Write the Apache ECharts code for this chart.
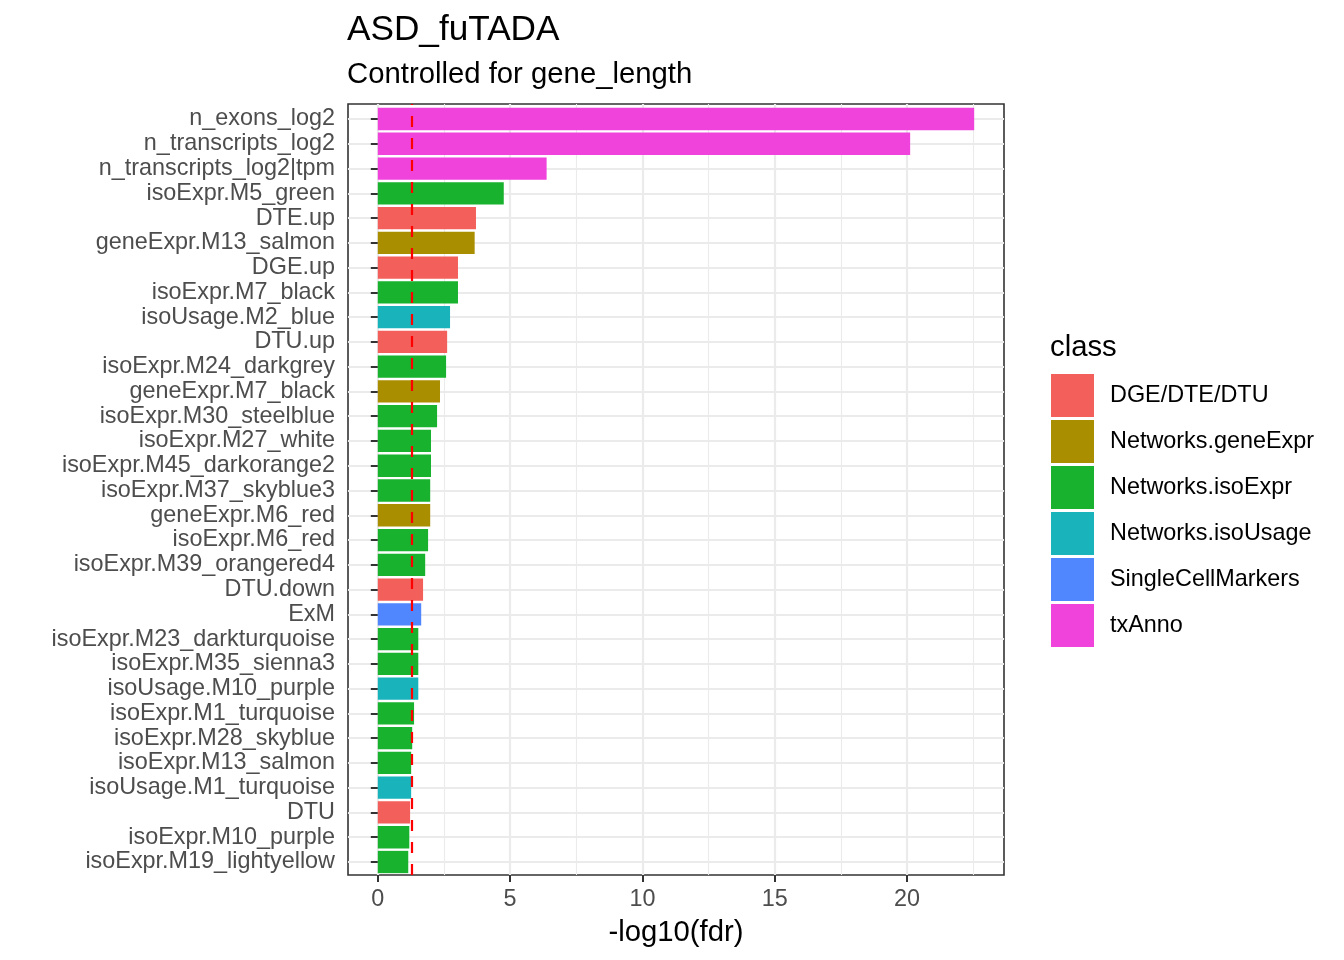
<!DOCTYPE html>
<html>
<head>
<meta charset="utf-8">
<script src="https://cdn.jsdelivr.net/npm/echarts@6/dist/echarts.min.js"></script>
<style>
  html, body { margin: 0; padding: 0; background: #fff; }
  #chart { width: 1344px; height: 960px; }
</style>
</head>
<body>
<div id="chart"></div>
<script>
// terms, top to bottom
const terms = [
  'n_exons_log2', 'n_transcripts_log2', 'n_transcripts_log2|tpm', 'isoExpr.M5_green',
  'DTE.up', 'geneExpr.M13_salmon', 'DGE.up', 'isoExpr.M7_black', 'isoUsage.M2_blue',
  'DTU.up', 'isoExpr.M24_darkgrey', 'geneExpr.M7_black', 'isoExpr.M30_steelblue',
  'isoExpr.M27_white', 'isoExpr.M45_darkorange2', 'isoExpr.M37_skyblue3', 'geneExpr.M6_red',
  'isoExpr.M6_red', 'isoExpr.M39_orangered4', 'DTU.down', 'ExM', 'isoExpr.M23_darkturquoise',
  'isoExpr.M35_sienna3', 'isoUsage.M10_purple', 'isoExpr.M1_turquoise', 'isoExpr.M28_skyblue',
  'isoExpr.M13_salmon', 'isoUsage.M1_turquoise', 'DTU', 'isoExpr.M10_purple',
  'isoExpr.M19_lightyellow'
];
const scores = [
  22.54, 20.12, 6.38, 4.76,
  3.71, 3.66, 3.03, 3.03, 2.73,
  2.62, 2.58, 2.35, 2.24,
  2.01, 2.01, 1.98, 1.98,
  1.90, 1.79, 1.71, 1.64, 1.53,
  1.53, 1.53, 1.37, 1.30,
  1.26, 1.26, 1.22, 1.19,
  1.15
];
const termClass = [
  'txAnno', 'txAnno', 'txAnno', 'Networks.isoExpr',
  'DGE/DTE/DTU', 'Networks.geneExpr', 'DGE/DTE/DTU', 'Networks.isoExpr', 'Networks.isoUsage',
  'DGE/DTE/DTU', 'Networks.isoExpr', 'Networks.geneExpr', 'Networks.isoExpr',
  'Networks.isoExpr', 'Networks.isoExpr', 'Networks.isoExpr', 'Networks.geneExpr',
  'Networks.isoExpr', 'Networks.isoExpr', 'DGE/DTE/DTU', 'SingleCellMarkers', 'Networks.isoExpr',
  'Networks.isoExpr', 'Networks.isoUsage', 'Networks.isoExpr', 'Networks.isoExpr',
  'Networks.isoExpr', 'Networks.isoUsage', 'DGE/DTE/DTU', 'Networks.isoExpr',
  'Networks.isoExpr'
];
const classes = ['DGE/DTE/DTU', 'Networks.geneExpr', 'Networks.isoExpr',
                 'Networks.isoUsage', 'SingleCellMarkers', 'txAnno'];
const classColors = ['#F35F5A', '#A98E00', '#19B22F', '#19B3BB', '#5087FF', '#F043DC'];
const xTicks = [0, 5, 10, 15, 20];
const xMinorTicks = [2.5, 7.5, 12.5, 17.5, 22.5];
const fdrLine = 1.30103; // -log10(0.05)

// ggplot-like 5% expansion
const maxScore = Math.max(...scores);
const xMin = -maxScore * 0.05;
const xMax = maxScore * 1.05;

const axisFont = 'Liberation Sans, Arial, Helvetica, sans-serif';

const barSeries = classes.map((cls, i) => ({
  name: cls,
  type: 'bar',
  barGap: '-100%',
  xAxisIndex: 1,
  yAxisIndex: 1,
  barWidth: '90%',
  clip: false,
  z: 3,
  itemStyle: { color: classColors[i] },
  data: scores.map((v, j) => termClass[j] === cls ? v : '-')
}));

const chart = echarts.init(document.getElementById('chart'));
chart.setOption({
  animation: false,
  backgroundColor: '#ffffff',
  textStyle: { fontFamily: axisFont },
  title: [
    { text: 'ASD_fuTADA', left: 347, top: 13, padding: 0,
      textStyle: { fontSize: 35.2, fontWeight: 'normal', color: '#000', fontFamily: axisFont } },
    { text: 'Controlled for gene_length', left: 347, top: 60, padding: 0,
      textStyle: { fontSize: 29.3, fontWeight: 'normal', color: '#000', fontFamily: axisFont } },
    { text: 'class', left: 1050, top: 333, padding: 0,
      textStyle: { fontSize: 29.3, fontWeight: 'normal', color: '#000', fontFamily: axisFont } }
  ],
  legend: {
    orient: 'vertical',
    left: 1051,
    top: 374,
    padding: 0,
    itemWidth: 43,
    itemHeight: 43,
    itemGap: 3,
    icon: 'rect',
    selectedMode: false,
    data: classes,
    textStyle: { fontSize: 23.4, color: '#000', fontFamily: axisFont, padding: [4, 0, 0, 11] }
  },
  grid: [
    // panel
    { left: 348, top: 104, width: 656, height: 771, show: true,
      backgroundColor: '#fff', borderColor: '#333333', borderWidth: 1.6, containLabel: false },
    // bar rows: from first to last category centre
    { left: 348, top: 119, width: 656, height: 743, containLabel: false }
  ],
  xAxis: [
    { type: 'value', gridIndex: 0, min: xMin, max: xMax,
      name: '-log10(fdr)', nameLocation: 'middle', nameGap: 43,
      nameTextStyle: { fontSize: 29.3, color: '#000', fontFamily: axisFont },
      axisLine: { show: false },
      axisTick: { show: true, length: 7, customValues: xTicks,
                  lineStyle: { color: '#333333', width: 2 } },
      axisLabel: { customValues: xTicks, margin: 13, fontSize: 23.4, color: '#4D4D4D', fontFamily: axisFont },
      splitLine: { show: true, lineStyle: { color: '#EBEBEB', width: 2.2 } }
    },
    { type: 'value', gridIndex: 1, min: xMin, max: xMax,
      axisLine: { show: false }, axisTick: { show: false },
      axisLabel: { show: false }, splitLine: { show: false } }
  ],
  yAxis: [
    { type: 'value', gridIndex: 0, min: 0, max: 1, show: false },
    { type: 'category', gridIndex: 1, data: terms, inverse: true, boundaryGap: false,
      axisLine: { show: false },
      axisTick: { show: true, length: 7, interval: 0, lineStyle: { color: '#333333', width: 2 } },
      axisLabel: { interval: 0, margin: 13, fontSize: 23.4, color: '#4D4D4D', fontFamily: axisFont,
                   padding: [7, 0, 0, 0] },
      splitLine: { show: true, interval: 0, lineStyle: { color: '#EBEBEB', width: 2.2 } }
    }
  ],
  series: [
    {
      name: 'minorGrid', type: 'line', xAxisIndex: 0, yAxisIndex: 0, data: [], z: 1,
      markLine: {
        z: 1, silent: true, symbol: 'none', label: { show: false },
        lineStyle: { color: '#EBEBEB', width: 1.1, type: 'solid' },
        data: xMinorTicks.map(v => ({ xAxis: v }))
      }
    },
    ...barSeries,
    {
      name: 'fdrCutoff', type: 'line', xAxisIndex: 0, yAxisIndex: 0, data: [], z: 10,
      markLine: {
        z: 10, silent: true, symbol: 'none', label: { show: false },
        lineStyle: { color: '#FF0000', width: 2.2, type: [11, 11] },
        data: [{ xAxis: fdrLine }]
      }
    }
  ]
});
</script>
</body>
</html>
